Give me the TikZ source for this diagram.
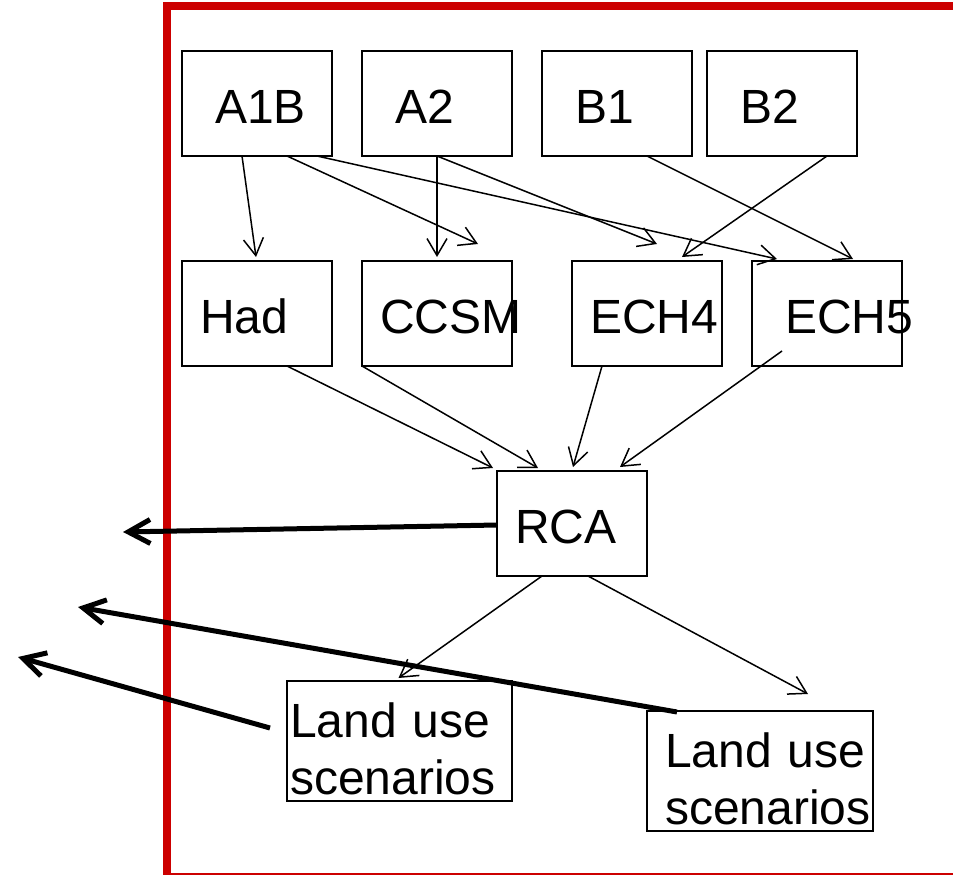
\documentclass[tikz,border=0pt]{standalone}
\usepackage{fontspec}
\setmainfont{Liberation Sans}
\usepackage{xcolor}
\definecolor{framered}{RGB}{204,0,0}
\usepackage{tikz}
\usetikzlibrary{arrows.meta, positioning, calc}
\tikzset{
  boxA/.style={draw=black, line width=1.5pt, outer sep=0pt,
    minimum width=150pt, minimum height=105pt,
    inner ysep=0pt, inner xsep=33pt, text width=84pt, align=left,
    text height=40pt, text depth=0pt,
    font=\fontsize{48pt}{57pt}\selectfont},
  boxB/.style={boxA, inner xsep=18pt, text width=114pt},
  landbox/.style={draw=black, line width=1.5pt, outer sep=0pt,
    minimum width=225pt, minimum height=120pt,
    inner ysep=0pt, align=left, text height=51pt,
    font=\fontsize{48pt}{57pt}\selectfont},
  flowarrow/.style={-{Straight Barb[length=17pt,width=20pt]}, line width=1.5pt},
  outarrow/.style={-{Straight Barb[length=22pt,width=24pt]}, line width=5pt},
  frame/.style={draw=framered, line width=8pt}
}
\begin{document}
\begin{tikzpicture}[x=1pt, y=-1pt]
  \useasboundingbox (0,0) rectangle (953,875);
  \clip (0,0) rectangle (953,875);
  \draw[frame] (167,6) rectangle (1000,877);

  % emission scenarios
  \node[boxA, anchor=north west] (A1B) at (182,51) {A1B};
  \node[boxA, right=30pt of A1B] (A2) {A2};
  \node[boxA, right=30pt of A2] (B1) {B1};
  \node[boxA, right=15pt of B1] (B2) {B2};

  % global models
  \node[boxB, below=105pt of A1B] (Had) {Had};
  \node[boxB, below=105pt of A2] (CCSM) {CCSM};
  \node[boxB, anchor=north west] (ECH4) at (572,261) {ECH4};
  \node[boxA, anchor=north west] (ECH5) at (752,261) {ECH5};

  % regional model and land use
  \node[boxB, anchor=north west] (RCA) at (497,471) {RCA};
  \node[landbox, anchor=north west, inner xsep=3pt, text width=219pt]
    (LU1) at (287,681) {\mbox{Land use}\\\mbox{scenarios}};
  \node[landbox, anchor=north west, inner xsep=18pt, text width=190pt,
    minimum width=226pt] (LU2) at (647,711) {\mbox{Land use}\\\mbox{scenarios}};

  \coordinate (outR) at (123,532);
  \coordinate (outB) at (78,607);
  \coordinate (outA) at (18,657);

  \draw[flowarrow] ($(A1B.south)+(-15,0)$) -- ($(Had.north)+(-1,-4)$);
  \draw[flowarrow] ($(A1B.south)+(30,0)$) -- ($(CCSM.north east)+(-34,-17)$);
  \draw[flowarrow] ($(A1B.south)+(60,0)$) -- ($(ECH5.north west)+(25,-2)$);
  \draw[flowarrow] (A2.south) -- ($(CCSM.north)+(0,-4)$);
  \draw[flowarrow] (A2.south) -- ($(ECH4.north)+(10,-17)$);
  \draw[flowarrow] ($(B1.south)+(30,0)$) -- ($(ECH5.north)+(26,-2)$);
  \draw[flowarrow] ($(B2.south)+(45,0)$) -- ($(ECH4.north)+(35,-4)$);

  \draw[flowarrow] ($(Had.south)+(30,0)$) -- ($(RCA.north west)+(-4,-3)$);
  \draw[flowarrow] (CCSM.south west) -- ($(RCA.north)+(-34,-3)$);
  \draw[flowarrow] ($(ECH4.south)+(-45,0)$) -- ($(RCA.north)+(1,-4)$);
  \draw[flowarrow] ($(ECH5.south)+(-45,-15)$) -- ($(RCA.north)+(48,-4)$);

  \draw[flowarrow] ($(RCA.south)+(-30,0)$) -- ($(LU1.north)+(-1,-3)$);
  \draw[flowarrow] ($(RCA.south)+(16,0)$) -- ($(LU2.north)+(48,-17)$);

  \draw[outarrow] ($(RCA.west)+(0,1.5)$) -- (outR);
  \draw[outarrow] ($(LU2.north west)+(30,1)$) -- (outB);
  \draw[outarrow] ($(LU1.west)+(-17,-13)$) -- (outA);
\end{tikzpicture}
\end{document}
